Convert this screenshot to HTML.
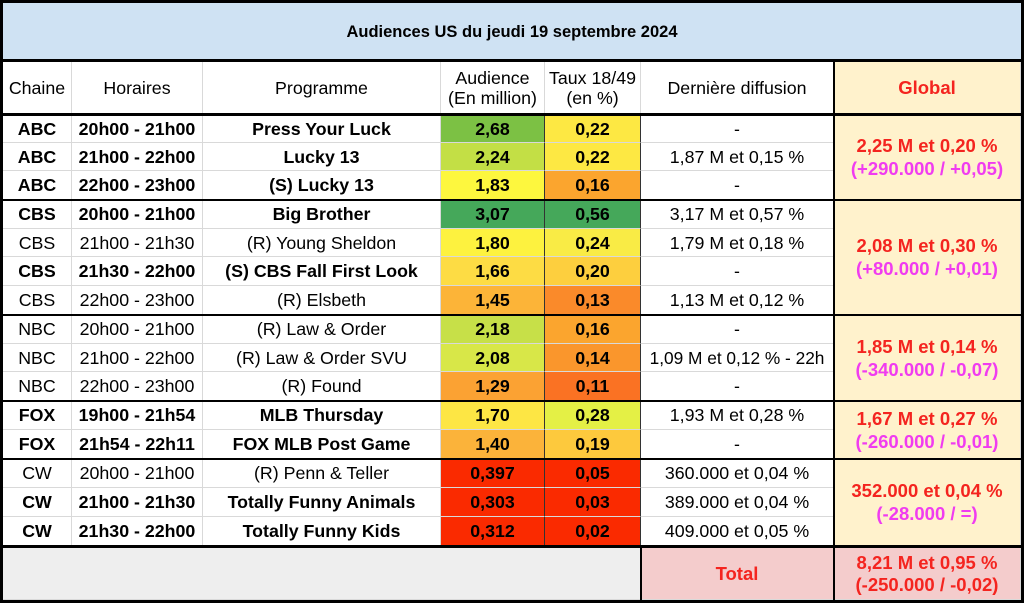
<!DOCTYPE html>
<html><head><meta charset="utf-8"><style>
body{margin:0;width:1024px;height:603px;background:#fff;position:relative;overflow:hidden;font-family:"Liberation Sans",Arial,sans-serif;color:#000}
.c{position:absolute;box-sizing:border-box;display:flex;align-items:center;justify-content:center;text-align:center;font-size:17.8px;border-right:1px solid #d9d9d9;border-bottom:1px solid #d9d9d9;line-height:20px;white-space:nowrap}
.b{font-weight:bold}
.c0{left:3px;width:69px}.c1{left:72px;width:131px}.c2{left:203px;width:238px}.c3{left:441px;width:104px;border-right-color:#333;font-weight:bold}.c4{left:545px;width:96px;border-right-color:#333;font-weight:bold}.c5{left:641px;width:193px}.c6{left:834px;width:187px;background:#fff2cc;font-weight:bold;color:#f4241f;flex-direction:column;font-size:18.5px;line-height:23px}
.m{color:#f03cf0}
.h{position:absolute;background:#000;left:0;width:1024px;height:3px}
.v{position:absolute;background:#000;width:2px}
</style></head><body>
<div class="c b" style="left:3px;top:3px;width:1018px;height:57px;background:#cfe2f3;font-size:16.5px;border:none">Audiences US du jeudi 19 septembre 2024</div>

<div class="c c0" style="top:62px;height:52px">Chaine</div>
<div class="c c1" style="top:62px;height:52px">Horaires</div>
<div class="c c2" style="top:62px;height:52px">Programme</div>
<div class="c c3" style="top:62px;height:52px;font-weight:normal;border-right-color:#d9d9d9">Audience<br>(En million)</div>
<div class="c c4" style="top:62px;height:52px;font-weight:normal;border-right-color:#d9d9d9">Taux 18/49<br>(en %)</div>
<div class="c c5" style="top:62px;height:52px">Dernière diffusion</div>
<div class="c c6" style="top:62px;height:52px;font-size:18.5px">Global</div>

<!-- ABC -->
<div class="c c0 b" style="top:115px;height:28px">ABC</div><div class="c c1 b" style="top:115px;height:28px">20h00 - 21h00</div><div class="c c2 b" style="top:115px;height:28px">Press Your Luck</div><div class="c c3" style="top:115px;height:28px;background:#7cc144">2,68</div><div class="c c4" style="top:115px;height:28px;background:#fde843">0,22</div><div class="c c5" style="top:115px;height:28px">-</div>
<div class="c c0 b" style="top:143px;height:28px">ABC</div><div class="c c1 b" style="top:143px;height:28px">21h00 - 22h00</div><div class="c c2 b" style="top:143px;height:28px">Lucky 13</div><div class="c c3" style="top:143px;height:28px;background:#c3df45">2,24</div><div class="c c4" style="top:143px;height:28px;background:#fde843">0,22</div><div class="c c5" style="top:143px;height:28px">1,87 M et 0,15 %</div>
<div class="c c0 b" style="top:171px;height:29px">ABC</div><div class="c c1 b" style="top:171px;height:29px">22h00 - 23h00</div><div class="c c2 b" style="top:171px;height:29px">(S) Lucky 13</div><div class="c c3" style="top:171px;height:29px;background:#fdf73e">1,83</div><div class="c c4" style="top:171px;height:29px;background:#fba52e">0,16</div><div class="c c5" style="top:171px;height:29px">-</div>
<div class="c c6" style="top:115px;height:85px">2,25 M et 0,20 %<span class="m">(+290.000 / +0,05)</span></div>

<!-- CBS -->
<div class="c c0 b" style="top:200px;height:29px">CBS</div><div class="c c1 b" style="top:200px;height:29px">20h00 - 21h00</div><div class="c c2 b" style="top:200px;height:29px">Big Brother</div><div class="c c3" style="top:200px;height:29px;background:#45a85a">3,07</div><div class="c c4" style="top:200px;height:29px;background:#45a85a">0,56</div><div class="c c5" style="top:200px;height:29px">3,17 M et 0,57 %</div>
<div class="c c0" style="top:229px;height:28px">CBS</div><div class="c c1" style="top:229px;height:28px">21h00 - 21h30</div><div class="c c2" style="top:229px;height:28px">(R) Young Sheldon</div><div class="c c3" style="top:229px;height:28px;background:#fdf23f">1,80</div><div class="c c4" style="top:229px;height:28px;background:#f9eb45">0,24</div><div class="c c5" style="top:229px;height:28px">1,79 M et 0,18 %</div>
<div class="c c0 b" style="top:257px;height:29px">CBS</div><div class="c c1 b" style="top:257px;height:29px">21h30 - 22h00</div><div class="c c2 b" style="top:257px;height:29px">(S) CBS Fall First Look</div><div class="c c3" style="top:257px;height:29px;background:#fddc44">1,66</div><div class="c c4" style="top:257px;height:29px;background:#fdcf3e">0,20</div><div class="c c5" style="top:257px;height:29px">-</div>
<div class="c c0" style="top:286px;height:29px">CBS</div><div class="c c1" style="top:286px;height:29px">22h00 - 23h00</div><div class="c c2" style="top:286px;height:29px">(R) Elsbeth</div><div class="c c3" style="top:286px;height:29px;background:#fcb438">1,45</div><div class="c c4" style="top:286px;height:29px;background:#fa8a2a">0,13</div><div class="c c5" style="top:286px;height:29px">1,13 M et 0,12 %</div>
<div class="c c6" style="top:200px;height:115px">2,08 M et 0,30 %<span class="m">(+80.000 / +0,01)</span></div>

<!-- NBC -->
<div class="c c0" style="top:315px;height:29px">NBC</div><div class="c c1" style="top:315px;height:29px">20h00 - 21h00</div><div class="c c2" style="top:315px;height:29px">(R) Law &amp; Order</div><div class="c c3" style="top:315px;height:29px;background:#c7e048">2,18</div><div class="c c4" style="top:315px;height:29px;background:#fba52e">0,16</div><div class="c c5" style="top:315px;height:29px">-</div>
<div class="c c0" style="top:344px;height:28px">NBC</div><div class="c c1" style="top:344px;height:28px">21h00 - 22h00</div><div class="c c2" style="top:344px;height:28px">(R) Law &amp; Order SVU</div><div class="c c3" style="top:344px;height:28px;background:#d8e748">2,08</div><div class="c c4" style="top:344px;height:28px;background:#fa962c">0,14</div><div class="c c5" style="top:344px;height:28px;font-size:17.3px">1,09 M et 0,12 % - 22h</div>
<div class="c c0" style="top:372px;height:29px">NBC</div><div class="c c1" style="top:372px;height:29px">22h00 - 23h00</div><div class="c c2" style="top:372px;height:29px">(R) Found</div><div class="c c3" style="top:372px;height:29px;background:#fba233">1,29</div><div class="c c4" style="top:372px;height:29px;background:#fa7223">0,11</div><div class="c c5" style="top:372px;height:29px">-</div>
<div class="c c6" style="top:315px;height:86px">1,85 M et 0,14 %<span class="m">(-340.000 / -0,07)</span></div>

<!-- FOX -->
<div class="c c0 b" style="top:401px;height:29px">FOX</div><div class="c c1 b" style="top:401px;height:29px">19h00 - 21h54</div><div class="c c2 b" style="top:401px;height:29px">MLB Thursday</div><div class="c c3" style="top:401px;height:29px;background:#fde644">1,70</div><div class="c c4" style="top:401px;height:29px;background:#e4f045">0,28</div><div class="c c5" style="top:401px;height:29px">1,93 M et 0,28 %</div>
<div class="c c0 b" style="top:430px;height:29px">FOX</div><div class="c c1 b" style="top:430px;height:29px">21h54 - 22h11</div><div class="c c2 b" style="top:430px;height:29px">FOX MLB Post Game</div><div class="c c3" style="top:430px;height:29px;background:#fbb33a">1,40</div><div class="c c4" style="top:430px;height:29px;background:#fdc93d">0,19</div><div class="c c5" style="top:430px;height:29px">-</div>
<div class="c c6" style="top:401px;height:58px">1,67 M et 0,27 %<span class="m">(-260.000 / -0,01)</span></div>

<!-- CW -->
<div class="c c0" style="top:459px;height:29px">CW</div><div class="c c1" style="top:459px;height:29px">20h00 - 21h00</div><div class="c c2" style="top:459px;height:29px">(R) Penn &amp; Teller</div><div class="c c3" style="top:459px;height:29px;background:#fa2a00">0,397</div><div class="c c4" style="top:459px;height:29px;background:#fa2a00">0,05</div><div class="c c5" style="top:459px;height:29px">360.000 et 0,04 %</div>
<div class="c c0 b" style="top:488px;height:29px">CW</div><div class="c c1 b" style="top:488px;height:29px">21h00 - 21h30</div><div class="c c2 b" style="top:488px;height:29px">Totally Funny Animals</div><div class="c c3" style="top:488px;height:29px;background:#fa2a00">0,303</div><div class="c c4" style="top:488px;height:29px;background:#fa2a00">0,03</div><div class="c c5" style="top:488px;height:29px">389.000 et 0,04 %</div>
<div class="c c0 b" style="top:517px;height:29px">CW</div><div class="c c1 b" style="top:517px;height:29px">21h30 - 22h00</div><div class="c c2 b" style="top:517px;height:29px">Totally Funny Kids</div><div class="c c3" style="top:517px;height:29px;background:#fa2a00">0,312</div><div class="c c4" style="top:517px;height:29px;background:#fa2a00">0,02</div><div class="c c5" style="top:517px;height:29px">409.000 et 0,05 %</div>
<div class="c c6" style="top:459px;height:87px">352.000 et 0,04 %<span class="m">(-28.000 / =)</span></div>

<!-- Total -->
<div class="c" style="left:3px;top:548px;width:638px;height:52px;background:#eeeeee"></div>
<div class="c b" style="left:641px;top:548px;width:193px;height:52px;background:#f4cccc;color:#f4241f;font-size:18.5px">Total</div>
<div class="c c6" style="top:548px;height:52px;background:#f4cccc;line-height:22px">8,21 M et 0,95 %<span style="color:#f4241f">(-250.000 / -0,02)</span></div>

<!-- thick lines -->
<div class="h" style="top:0"></div>
<div class="h" style="top:59px"></div>
<div class="h" style="top:113px"></div>
<div class="h" style="top:199px;height:2px"></div>
<div class="h" style="top:314px;height:2px"></div>
<div class="h" style="top:400px;height:2px"></div>
<div class="h" style="top:458px;height:2px"></div>
<div class="h" style="top:545px"></div>
<div class="h" style="top:600px"></div>
<div class="v" style="left:0;top:0;height:603px;width:3px"></div>
<div class="v" style="left:1021px;top:0;height:603px;width:3px"></div>
<div class="v" style="left:833px;top:60px;height:543px"></div>
<div class="v" style="left:640px;top:546px;height:57px"></div>
</body></html>
